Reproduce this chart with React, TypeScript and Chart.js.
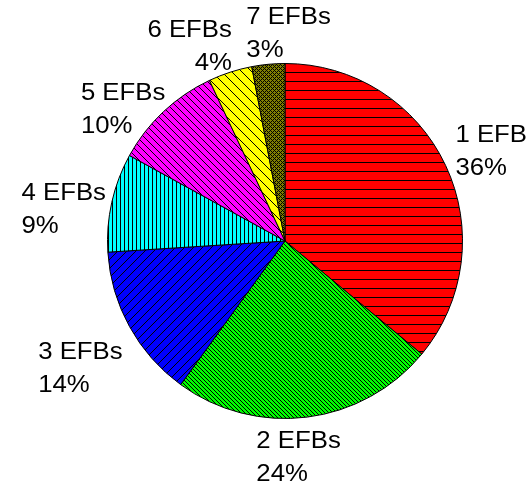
import React, { useEffect, useRef } from "react";
import { Chart, registerables } from "chart.js";

Chart.register(...registerables);

const LABELS = ["1 EFB", "2 EFBs", "3 EFBs", "4 EFBs", "5 EFBs", "6 EFBs", "7 EFBs"];
const VALUES = [36, 24, 14, 9, 10, 4, 3];
const COLORS = ["#FF0000", "#00FF00", "#0000FF", "#00FFFF", "#FF00FF", "#FFFF00", "#808000"];

// label layout (not data)
const FONT_SIZE = 23;
const SX = 1.12;
const LINE_HEIGHT = 33;
const CAP = 0.716;
const GAP = 8;
const NUDGE: [number, number][] = [
  [6, 2],
  [-15, -2],
  [-5, 21],
  [1, 15],
  [-6, 27],
  [-25, 12],
  [25, 9],
];
const ALIGN = ["left", "left", "left", "left", "left", "right", "left"];

type PatternKind = "hlines" | "back" | "fwd" | "vlines" | "cross";
const PATTERNS: PatternKind[] = ["hlines", "back", "fwd", "vlines", "back", "back", "cross"];
const PATTERN_PERIOD = [9, 4, 9, 4, 7, 10, 4];

function makePattern(bg: string, kind: PatternKind, p: number): CanvasPattern | string {
  const c = document.createElement("canvas");
  const w = p, h = p;
  c.width = w; c.height = h;
  const ctx = c.getContext("2d");
  if (!ctx) return bg;
  ctx.fillStyle = bg;
  ctx.fillRect(0, 0, w, h);
  ctx.fillStyle = "#000";
  if (kind === "hlines") ctx.fillRect(0, 0, w, 1);
  if (kind === "vlines") ctx.fillRect(0, 0, 1, h);
  if (kind === "back") for (let i = 0; i < w; i++) ctx.fillRect(i, i, 1, 1);
  if (kind === "fwd") for (let i = 0; i < w; i++) ctx.fillRect(w - 1 - i, i, 1, 1);
  if (kind === "cross") {
    for (let x = 0; x < w; x++)
      for (let y = 0; y < h; y++)
        if ((x + y) % p === 0 || (x - y + p) % p === 0) ctx.fillRect(x, y, 1, 1);
  }
  return ctx.createPattern(c, "repeat") || bg;
}

const labelPlugin = {
  id: "outerLabels",
  afterDatasetsDraw(chart: any) {
    const meta = chart.getDatasetMeta(0);
    const ctx = chart.ctx as CanvasRenderingContext2D;
    ctx.save();
    ctx.font = `${FONT_SIZE}px "Liberation Sans", Arial, sans-serif`;
    ctx.fillStyle = "#000";
    ctx.textBaseline = "alphabetic";
    meta.data.forEach((arc: any, i: number) => {
      const { x, y, startAngle, endAngle, outerRadius } = arc.getProps(
        ["x", "y", "startAngle", "endAngle", "outerRadius"],
        true
      );
      const mid = (startAngle + endAngle) / 2;
      const dx = Math.cos(mid);
      const dy = Math.sin(mid);
      const lines = [LABELS[i], `${VALUES[i]}%`];
      const widths = lines.map((l) => ctx.measureText(l).width * SX);
      const w = Math.max(...widths);
      const h = LINE_HEIGHT * lines.length;
      const cx = x + (outerRadius + GAP) * dx + (w / 2) * dx + NUDGE[i][0];
      const cy = y + (outerRadius + GAP) * dy + (h / 2) * dy + NUDGE[i][1];
      const left = cx - w / 2;
      const top = cy - h / 2;
      lines.forEach((line, j) => {
        const baseline = top + LINE_HEIGHT * (j + 0.5) + (CAP * FONT_SIZE) / 2;
        const tx = ALIGN[i] === "right" ? left + w - widths[j] : left;
        ctx.save();
        ctx.translate(tx, baseline);
        ctx.scale(SX, 1);
        ctx.fillText(line, 0, 0);
        ctx.restore();
      });
    });
    ctx.restore();
  },
};

export default function App() {
  const ref = useRef<HTMLCanvasElement | null>(null);
  useEffect(() => {
    if (!ref.current) return;
    const bgs = COLORS.map((c, i) => makePattern(c, PATTERNS[i], PATTERN_PERIOD[i]));
    const chart = new Chart(ref.current, {
      type: "pie",
      data: {
        labels: LABELS,
        datasets: [
          {
            data: VALUES,
            backgroundColor: bgs as any,
            borderColor: "#000000",
            borderWidth: 1,
          },
        ],
      },
      options: {
        responsive: false,
        animation: false,
        events: [],
        layout: { padding: { left: 107, right: 67, top: 63, bottom: 72 } },
        plugins: {
          legend: { display: false },
          tooltip: { enabled: false },
        },
      },
      plugins: [labelPlugin],
    });
    return () => chart.destroy();
  }, []);
  return (
    <div style={{ position: "fixed", left: 0, top: 0, width: 530, height: 491, background: "#fff" }}>
      <canvas ref={ref} width={530} height={491} style={{ width: 530, height: 491 }} />
    </div>
  );
}
